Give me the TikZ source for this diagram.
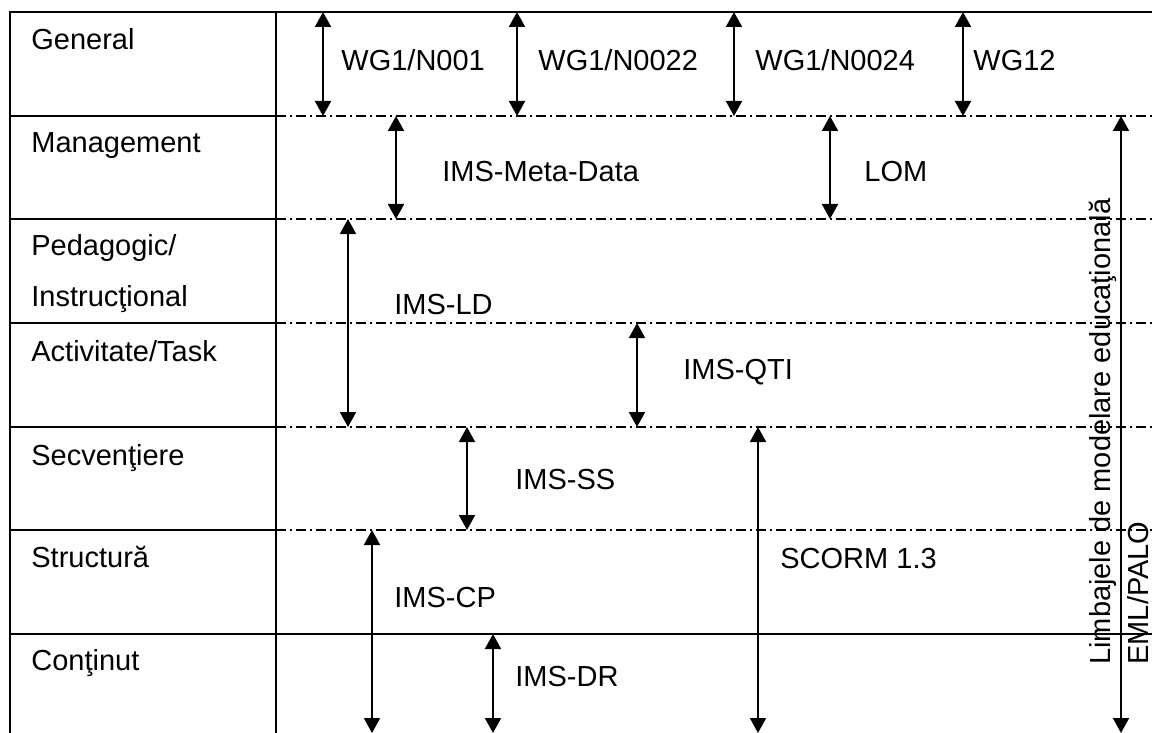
\documentclass[tikz,border=0pt]{standalone}
\usepackage{fontspec}
\setmainfont{Liberation Sans}
\usetikzlibrary{arrows.meta,positioning}

\begin{document}
\begin{tikzpicture}[x=0.5pt, y=-0.5pt,
  font=\fontsize{14.5pt}{17pt}\selectfont,
  rule/.style={line width=1.1pt},
  sep/.style={line width=0.8pt, dash pattern=on 5pt off 2pt on 1pt off 2pt},
  dbl/.style={line width=1pt,
              {Triangle[length=7.5pt,width=8pt]}-{Triangle[length=7.5pt,width=8pt]}},
  lbl/.style={inner sep=0pt, anchor=base west},
  layer/.style={lbl, align=left, font=\fontsize{14.5pt}{25pt}\selectfont}]
\useasboundingbox (0,0) rectangle (1152,733);
% ---- row boundaries ----
\foreach \i/\y in {0/12,1/116,2/219,3/323,4/427,5/530,6/634,7/733}
  \coordinate (r\i) at (276,\y);
% ---- table frame ----
\draw[rule] (r7 -| 10,0) -- (r0 -| 10,0) -- (r0 -| 1152,0);
\draw[rule] (r0) -- (r7);
\foreach \i in {1,...,5} {
  \draw[rule] (r\i -| 10,0) -- (r\i);
  \draw[sep] (r\i) -- (r\i -| 1152,0);
}
\draw[rule] (r6 -| 10,0) -- (r6 -| 1152,0);
% ---- layers ----
\node[lbl] (general) at (31,50) {General};
\node[lbl] (mgmt) at (31,153) {Management};
\node[layer] (ped) at (31,306) {Pedagogic/\\Instrucţional};
\node[lbl] (act) at (31,361) {Activitate/Task};
\node[lbl] (secv) at (31,465) {Secvenţiere};
\node[lbl] (struct) at (31,567) {Structură};
\node[lbl] (cont) at (31,670) {Conţinut};
% ---- standards ----
\node[lbl] (n001) at (341,71) {WG1/N001};
\node[lbl] (n0022) at (538,71) {WG1/N0022};
\node[lbl] (n0024) at (755,71) {WG1/N0024};
\node[lbl] (wg12) at (973,71) {WG12};
\node[lbl] (imsmd) at (442,182) {IMS-Meta-Data};
\node[lbl] (lom) at (864,182) {LOM};
\node[lbl] (imsld) at (394,314) {IMS-LD};
\node[lbl] (imsqti) at (683,379) {IMS-QTI};
\node[lbl] (imsss) at (515,489) {IMS-SS};
\node[lbl] (scorm) at (780,568) {SCORM 1.3};
\node[lbl] (imscp) at (394,607) {IMS-CP};
\node[lbl] (imsdr) at (515,686) {IMS-DR};
\node[layer, rotate=90, font=\fontsize{14.5pt}{19pt}\selectfont] (eml) at (1148,665)
  {Limbajele de modelare educaţională\\EML/PALO};
% ---- spans ----
\foreach \x/\a/\b in {323/0/1, 517/0/1, 734/0/1, 963/0/1, 396/1/2, 830/1/2,
                      348/2/4, 637/3/4, 467/4/5, 758/4/7, 372/5/7, 493/6/7, 1121/1/7}
  \draw[dbl] (\x,0 |- r\a) -- (\x,0 |- r\b);
\end{tikzpicture}
\end{document}
